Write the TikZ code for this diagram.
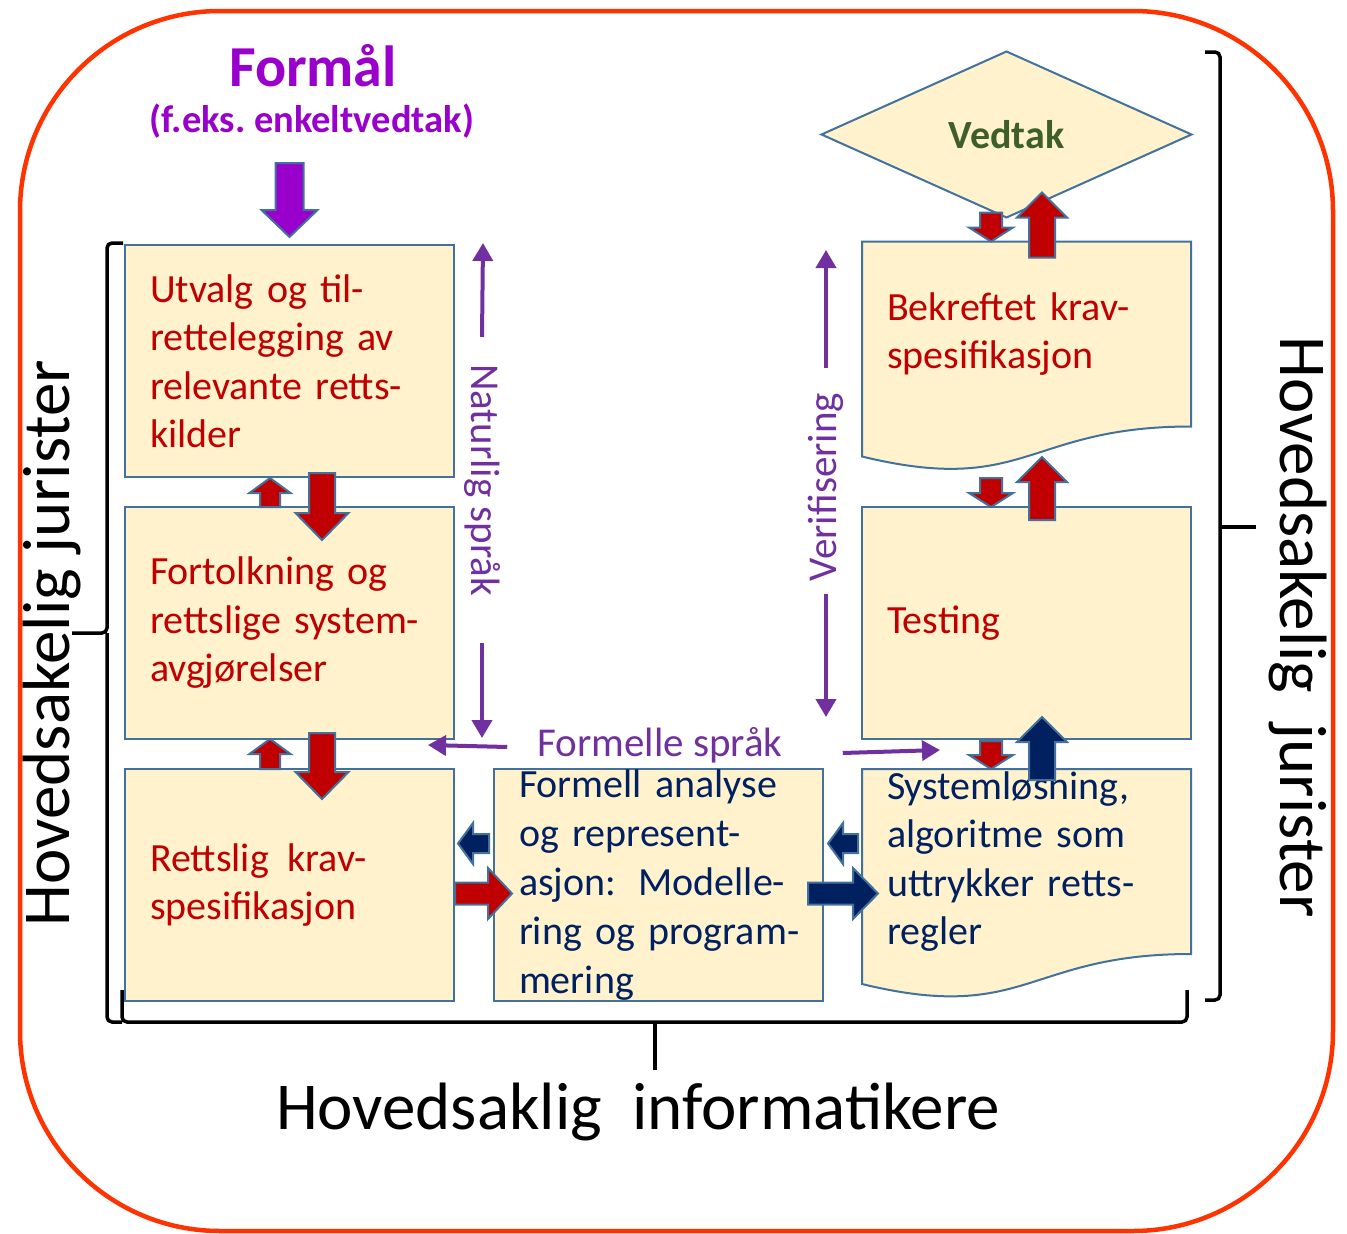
\documentclass[tikz,border=0pt]{standalone}
\usepackage{fontspec}
\setmainfont{Carlito}
\usetikzlibrary{positioning,calc,backgrounds,shapes.geometric,arrows.meta}

\definecolor{boxfill}{HTML}{FFF2CC}
\definecolor{boxline}{HTML}{41719C}
\definecolor{lawred}{HTML}{C00000}
\definecolor{navyblue}{HTML}{002060}
\definecolor{aimpurple}{HTML}{9900CC}
\definecolor{langpurple}{HTML}{7030A0}
\definecolor{framered}{HTML}{FF3300}
\definecolor{vedtakgreen}{HTML}{3F5F2A}

% block arrow: length, shaft width, head width, head length, style
\tikzset{pics/blockarrow/.style n args={5}{code={
  \path[#5] (0,-#2/2) -- (#1-#4,-#2/2) -- (#1-#4,-#3/2) -- (#1,0) -- (#1-#4,#3/2) -- (#1-#4,#2/2) -- (0,#2/2) -- cycle;
}}}

\begin{document}
\frenchspacing
\begin{tikzpicture}[x=1pt, y=-1pt, node distance=30pt]
\tikzstyle{block} = [rectangle, draw=boxline, fill=boxfill, line width=2pt, minimum width=329pt, minimum height=232pt, text width=279pt, inner xsep=25pt, inner ysep=0pt, outer sep=0pt, align=left, font=\fontsize{40}{48.5}\selectfont]
\tikzstyle{docblock} = [block, draw=none, fill=none, minimum height=185pt]
\tikzstyle{docline} = [draw=boxline, fill=boxfill, line width=2pt]
\tikzstyle{redarrow} = [fill=lawred, draw=boxline, line width=2pt]
\tikzstyle{navyarrow} = [redarrow, fill=navyblue]
\tikzstyle{aimarrow} = [redarrow, fill=aimpurple]
\tikzstyle{thinarrow} = [draw=langpurple, line width=4pt, -{Triangle[length=18pt,width=20pt]}]
\tikzstyle{langtext} = [text=langpurple, inner sep=0pt, font=\fontsize{41}{48}\selectfont]
\tikzstyle{grouptext} = [inner sep=0pt, font=\fontsize{67}{78}\selectfont]
\tikzstyle{bracket} = [draw=black, line width=3.5pt, rounded corners=5pt]

\useasboundingbox (0,0) rectangle (1347,1234);

% Outer frame
\draw[framered, line width=4.5pt, rounded corners=200pt] (20,11) rectangle (1333,1231);

% Purpose
\node [text=aimpurple, font=\bfseries\fontsize{58}{64}\selectfont] (formaal) at (313,66) {Formål};
\node [text=aimpurple, font=\bfseries\fontsize{38.5}{44}\selectfont] (eks) at (312,121) {(f.eks. enkeltvedtak)};

% Legal column
\node [block, text=lawred] (utvalg) at (289.5,361) {Utvalg og til-\\rettelegging av\\relevante retts-\\kilder};
\node [block, text=lawred, below=of utvalg] (fortolkning) {Fortolkning og\\rettslige system-\\avgjørelser};
\node [block, text=lawred, below=of fortolkning] (rettslig) {Rettslig\hspace{5pt} krav-\\spesifikasjon};

% Formal modelling
\node [block, text=navyblue, inner ysep=-10pt, font=\fontsize{40}{49}\selectfont, right=40pt of rettslig] (formell) {Formell analyse\\og represent-\\asjon:\hspace{9pt} Modelle-\\\mbox{ring og program-}\\mering};

% Verification column
\node [docblock, text=navyblue, right=39pt of formell.north east, anchor=north west] (system) {Systemløsning,\\algoritme som\\uttrykker retts-\\regler};
\node [block, text=lawred, above=30pt of system] (testing) {Testing};
\node [docblock, text=lawred, above=80.5pt of testing] (bekreftet) {Bekreftet krav-\\spesifikasjon};
\node [diamond, draw=boxline, fill=boxfill, line width=2pt, minimum width=370pt, minimum height=166pt, inner sep=0pt, outer sep=0pt, text=vedtakgreen, font=\bfseries\fontsize{40}{46}\selectfont, above=24pt of bekreftet, xshift=-20pt] (vedtak) {Vedtak};

\begin{pgfonlayer}{background}
\foreach \doc in {bekreftet,system}
  \draw[docline] (\doc.north west) -- (\doc.north east) -- (\doc.south east) .. controls (\doc.south) and ($(\doc.south)+(0,70)$) .. ($(\doc.south west)+(0,30)$) -- cycle;
\end{pgfonlayer}

% Block arrows
\pic[rotate=-90] at ($(utvalg.north)+(0,-82)$) {blockarrow={74}{28}{56}{27}{aimarrow}};
\pic[rotate=-90] at ($(utvalg.south)+(32.5,-4)$) {blockarrow={67}{26}{53}{27}{redarrow}};
\pic[rotate=90] at ($(fortolkning.north)+(-19.5,0)$) {blockarrow={29}{20}{41}{15}{redarrow}};
\pic[rotate=-90] at ($(fortolkning.south)+(32.5,-6)$) {blockarrow={66}{26}{53}{27}{redarrow}};
\pic[rotate=90] at ($(rettslig.north)+(-19.5,0)$) {blockarrow={30}{20}{41}{15}{redarrow}};
\pic at ($(rettslig.east)+(1,8.5)$) {blockarrow={57}{22}{51}{24}{redarrow}};
\pic[rotate=180] at ($(formell.west)+(-5,-41.5)$) {blockarrow={31}{19}{41}{15}{navyarrow}};
\pic at ($(formell.east)+(-15,8.5)$) {blockarrow={70}{22}{51}{25}{navyarrow}};
\pic[rotate=180] at ($(formell.east)+(35,-41.5)$) {blockarrow={30}{19}{41}{15}{navyarrow}};
\pic[rotate=-90] at ($(bekreftet.north)+(-35.5,-29)$) {blockarrow={29}{22}{44}{14}{redarrow}};
\pic[rotate=90] at ($(bekreftet.north)+(15.5,16)$) {blockarrow={65}{26}{50}{25}{redarrow}};
\pic[rotate=-90] at ($(testing.north)+(-35.5,-29)$) {blockarrow={29}{22}{44}{14}{redarrow}};
\pic[rotate=90] at ($(testing.north)+(15.5,13)$) {blockarrow={63}{26}{50}{25}{redarrow}};
\pic[rotate=-90] at ($(system.north)+(-35.5,-28)$) {blockarrow={28}{22}{44}{14}{redarrow}};
\pic[rotate=90] at ($(system.north)+(15.5,11)$) {blockarrow={63}{26}{50}{25}{navyarrow}};

% Languages and verification
\node [langtext, rotate=-90] (naturlig) at (482,480) {Naturlig språk};
\node [langtext, rotate=90] (verif) at (826,487) {Verifisering};
\node [langtext] (formelle) at (660,745) {Formelle språk};
\coordinate (natup) at (483,243);
\coordinate (natdown) at (482,738);
\coordinate (verup) at (826,250);
\coordinate (verdown) at (826,717);
\coordinate (formleft) at (428,745);
\coordinate (formright) at (940,750);
\draw[thinarrow] ([yshift=27pt]naturlig.west) -- (natup);
\draw[thinarrow] ([yshift=-47pt]naturlig.east) -- (natdown);
\draw[thinarrow] ([yshift=25pt]verif.east) -- (verup);
\draw[thinarrow] ([yshift=-13pt]verif.west) -- (verdown);
\draw[thinarrow] ([xshift=-30pt,yshift=-2pt]formelle.west) -- (formleft);
\draw[thinarrow] ([xshift=60pt,yshift=-8pt]formelle.east) -- (formright);

% Brackets
\draw[bracket] (123,243) -- (107,243) -- (107,633) -- (72,633);
\draw[bracket] (107,633) -- (107,1022) -- (122,1022);
\draw[bracket] (122,990) -- (122,1022) -- (1187,1022) -- (1187,990);
\draw[bracket] (655,1022) -- (655,1070);
\draw[bracket] (1205,52) -- (1220,52) -- (1220,1000) -- (1205,1000);
\draw[bracket] (1220,527) -- (1256,527);

% Groups
\node [grouptext, rotate=90] (jurleft) at (52,643) {Hovedsakelig jurister};
\node [grouptext, rotate=-90] (jurright) at (1298,627) {Hovedsakelig~ jurister};
\node [grouptext] (informatikere) at (638,1112) {Hovedsaklig~ informatikere};

\end{tikzpicture}
\end{document}
